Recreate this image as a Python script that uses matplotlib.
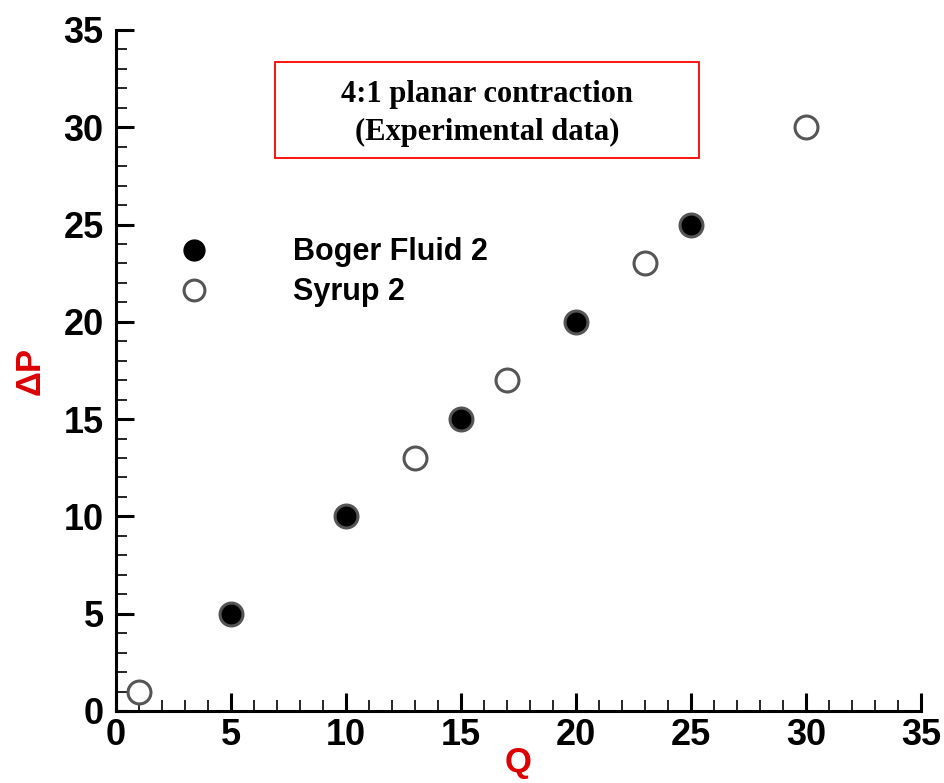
import numpy as np
import matplotlib.pyplot as plt
from matplotlib.lines import Line2D
from matplotlib.patches import Rectangle
from matplotlib.ticker import MultipleLocator

# Experimental data
boger_q = [5, 10, 15, 20, 25]
boger_dp = [5, 10, 15, 20, 25]
syrup_q = [1, 13, 17, 23, 30]
syrup_dp = [1, 13, 17, 23, 30]

plt.rcParams["font.family"] = ["Liberation Sans", "DejaVu Sans"]

fig = plt.figure(figsize=(9.44, 7.83), dpi=100)
ax = fig.add_axes([0.1229, 0.092, 0.8527, 0.8697])

edge = "#555555"
ax.plot(boger_q, boger_dp, "o", ms=16.5, mfc="black", mec=edge, mew=2.2,
        linestyle="none", clip_on=False, zorder=3)
ax.plot(syrup_q, syrup_dp, "o", ms=16.5, mfc="white", mec=edge, mew=2.2,
        linestyle="none", clip_on=False, zorder=3)

ax.set_xlim(0, 35)
ax.set_ylim(0, 35)
ax.xaxis.set_major_locator(MultipleLocator(5))
ax.yaxis.set_major_locator(MultipleLocator(5))
ax.xaxis.set_minor_locator(MultipleLocator(1))
ax.yaxis.set_minor_locator(MultipleLocator(1))

for s in ["top", "right"]:
    ax.spines[s].set_visible(False)
for s in ["left", "bottom"]:
    ax.spines[s].set_linewidth(2.2)

ax.tick_params(which="major", direction="in", length=13, width=2.2,
               labelsize=26)
ax.tick_params(axis="y", which="major", pad=9)
ax.tick_params(axis="x", which="major", pad=5)
ax.tick_params(which="minor", direction="in", length=8, width=1.2)
for lab in ax.get_xticklabels() + ax.get_yticklabels():
    lab.set_fontweight("bold")

ax.set_xlabel("Q", color="#dd0000", fontsize=25, fontweight="bold", labelpad=-5)
ax.set_ylabel("ΔP", color="#dd0000", fontsize=25, fontweight="bold", labelpad=12)

# legend
handles = [
    Line2D([], [], marker="o", ms=15, mfc="black", mec="black", ls="none"),
    Line2D([], [], marker="o", ms=15, mfc="white", mec=edge, mew=2.2, ls="none"),
]
leg = ax.legend(handles, ["Boger Fluid 2", "Syrup 2"], loc="upper left",
                bbox_to_anchor=(0.044, 0.736), frameon=False,
                prop={"weight": "bold", "size": 22}, handletextpad=2.73,
                labelspacing=0.33, handlelength=1)

# title box
ax.add_patch(Rectangle((0.1975, 0.812), 0.5265, 0.141, transform=ax.transAxes,
                       fill=False, ec="red", lw=1.3))
ax.text(0.461, 0.878, "4:1 planar contraction\n(Experimental data)",
        transform=ax.transAxes, ha="center", va="center",
        fontsize=22, fontweight="bold", family="Liberation Serif",
        linespacing=1.4)

fig.savefig("out.png", dpi=100)
